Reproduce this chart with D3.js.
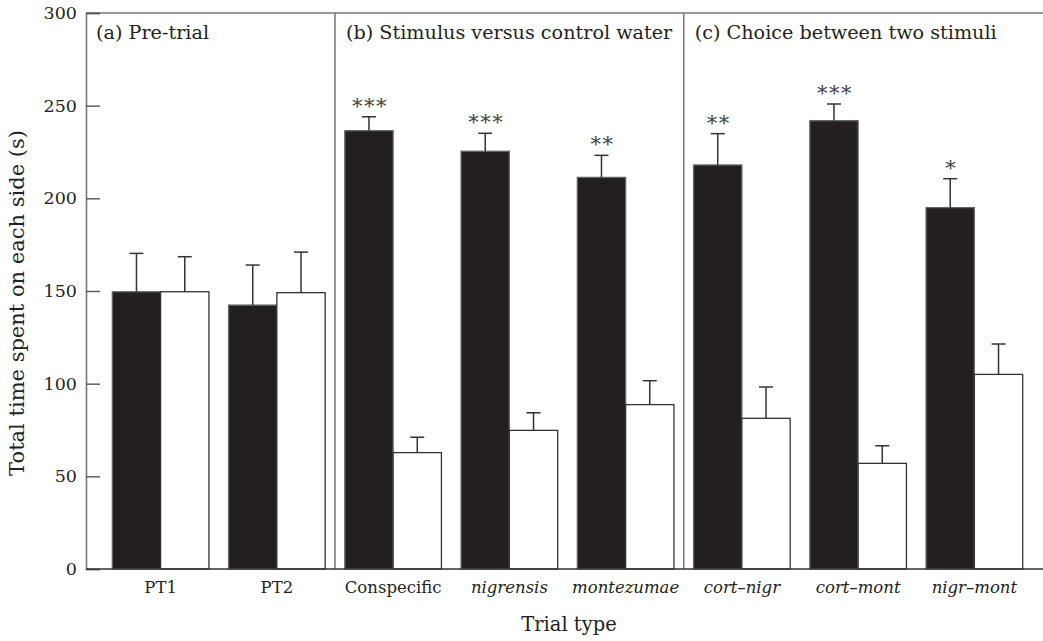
<!DOCTYPE html>
<html>
<head>
<meta charset="utf-8">
<script src="https://cdn.jsdelivr.net/npm/d3@7"></script>
<style>
  body { margin: 0; background: #fff; }
  svg { display: block; }
  svg text { font-family: "DejaVu Serif", serif; }
</style>
</head>
<body>
<svg id="chart" width="1043" height="641"></svg>
<script>
// Data
var trials = ["PT1", "PT2", "Conspecific", "nigrensis", "montezumae", "cort\u2013nigr", "cort\u2013mont", "nigr\u2013mont"];
var italicLabel = [false, false, false, true, true, true, true, true];
var blackMean = [149.6, 142.4, 236.5, 225.4, 211.3, 218.0, 241.9, 195.0];
var blackSE = [20.7, 21.6, 7.5, 9.7, 11.9, 16.9, 9.0, 15.6];
var whiteMean = [149.6, 149.1, 62.8, 74.8, 88.7, 81.3, 57.0, 105.0];
var whiteSE = [18.9, 21.9, 8.3, 9.5, 12.9, 16.9, 9.5, 16.4];
var stars = ["", "", "***", "***", "**", "**", "***", "*"];
var panelLabels = ["(a) Pre-trial", "(b) Stimulus versus control water", "(c) Choice between two stimuli"];
var panelStart = [0, 2, 5];
var yTicks = [0, 50, 100, 150, 200, 250, 300];

var svg = d3.select("#chart");

// Scales
const axisX = 86, plotTop = 13, plotBottom = 569, plotRight = 1043;
const padIn = 0.169;

const x = d3.scaleBand()
  .domain(trials)
  .range([102.5, 1032.5])
  .paddingInner(padIn)
  .paddingOuter(padIn / 2);

const xSub = d3.scaleBand()
  .domain(["black", "white"])
  .range([0, x.bandwidth()]);

const y = d3.scaleLinear()
  .domain([0, 300])
  .range([plotBottom, plotTop]);

// Bars
var bars = [];
trials.forEach(function(t, i) {
  bars.push({trial: t, side: "black", mean: blackMean[i], se: blackSE[i]});
  bars.push({trial: t, side: "white", mean: whiteMean[i], se: whiteSE[i]});
});

svg.append("g")
  .selectAll("rect")
  .data(bars)
  .enter()
  .append("rect")
  .attr("x", d => x(d.trial) + xSub(d.side))
  .attr("y", d => y(d.mean))
  .attr("width", xSub.bandwidth())
  .attr("height", d => y(0) - y(d.mean))
  .attr("fill", d => d.side == "black" ? "#231f20" : "#fff")
  .attr("stroke", d => d.side == "black" ? "#666" : "#333")
  .attr("stroke-width", 1.3);

// Error bars
var err = svg.append("g")
  .selectAll("g")
  .data(bars)
  .enter()
  .append("g")
  .attr("stroke", "#333")
  .attr("stroke-width", 1.5);

err.append("line")
  .attr("x1", d => x(d.trial) + xSub(d.side) + xSub.bandwidth() / 2)
  .attr("x2", d => x(d.trial) + xSub(d.side) + xSub.bandwidth() / 2)
  .attr("y1", d => y(d.mean))
  .attr("y2", d => y(d.mean + d.se));

err.append("line")
  .attr("x1", d => x(d.trial) + xSub(d.side) + xSub.bandwidth() / 2 - 7)
  .attr("x2", d => x(d.trial) + xSub(d.side) + xSub.bandwidth() / 2 + 7)
  .attr("y1", d => y(d.mean + d.se))
  .attr("y2", d => y(d.mean + d.se));

// Significance stars
svg.append("g")
  .selectAll("text")
  .data(trials)
  .enter()
  .append("text")
  .attr("x", (d, i) => x(d) + xSub.bandwidth() / 2 + 1)
  .attr("y", (d, i) => y(blackMean[i] + blackSE[i]) - 4)
  .attr("text-anchor", "middle")
  .style("font-size", "21px")
  .style("letter-spacing", "1.5px")
  .attr("fill", "#444")
  .text((d, i) => stars[i]);

// Frame: top line, panel dividers
svg.append("line")
  .attr("x1", axisX).attr("x2", plotRight)
  .attr("y1", plotTop).attr("y2", plotTop)
  .attr("stroke", "#777").attr("stroke-width", 1.6);

svg.append("g")
  .selectAll("line")
  .data(panelStart.slice(1))
  .enter()
  .append("line")
  .attr("x1", d => x(trials[d]) - x.step() * padIn / 2)
  .attr("x2", d => x(trials[d]) - x.step() * padIn / 2)
  .attr("y1", plotTop)
  .attr("y2", plotBottom)
  .attr("stroke", "#777")
  .attr("stroke-width", 1.5);

// Panel labels
svg.append("g")
  .selectAll("text")
  .data(panelLabels)
  .enter()
  .append("text")
  .attr("x", (d, i) => i == 0 ? axisX + 10 : x(trials[panelStart[i]]) - x.step() * padIn / 2 + 11)
  .attr("y", 39)
  .style("font-size", "19.2px")
  .attr("fill", "#231f20")
  .text(d => d);

// Y axis (ticks point inward)
const yaxis = d3.axisLeft(y)
  .tickValues(yTicks)
  .tickSize(-14)
  .tickPadding(9);

const gy = svg.append("g")
  .attr("transform", `translate(${axisX},0)`)
  .call(yaxis);
gy.select(".domain").attr("stroke", "#777").attr("stroke-width", 1.6);
gy.selectAll(".tick line").attr("stroke", "#555").attr("stroke-width", 1.4);
gy.selectAll(".tick text")
  .style("font-size", "17.5px")
  .style("font-family", "'DejaVu Serif', serif")
  .attr("fill", "#231f20");

// X axis
svg.append("line")
  .attr("x1", axisX).attr("x2", plotRight)
  .attr("y1", plotBottom).attr("y2", plotBottom)
  .attr("stroke", "#333").attr("stroke-width", 1.6);

const xaxis = d3.axisBottom(x).tickSize(0).tickPadding(12);
const gx = svg.append("g")
  .attr("transform", `translate(0,${plotBottom})`)
  .call(xaxis);
gx.select(".domain").remove();
gx.selectAll(".tick text")
  .style("font-size", "16.5px")
  .style("font-family", "'DejaVu Serif', serif")
  .style("font-style", (d, i) => italicLabel[i] ? "italic" : "normal")
  .attr("fill", "#231f20");

// Axis titles
svg.append("text")
  .attr("transform", `translate(24,${(plotTop + plotBottom) / 2 + 12}) rotate(-90)`)
  .attr("text-anchor", "middle")
  .style("font-size", "21px")
  .attr("fill", "#231f20")
  .text("Total time spent on each side (s)");

svg.append("text")
  .attr("x", 569)
  .attr("y", 631)
  .attr("text-anchor", "middle")
  .style("font-size", "19.5px")
  .attr("fill", "#231f20")
  .text("Trial type");
</script>
</body>
</html>
